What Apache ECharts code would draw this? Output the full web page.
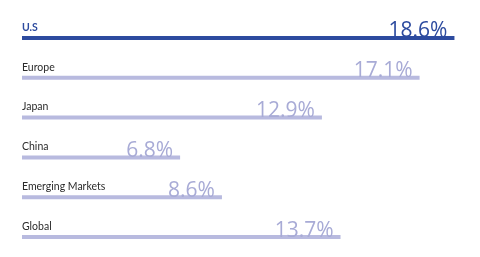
<!DOCTYPE html>
<html>
<head>
<meta charset="utf-8">
<script src="https://cdn.jsdelivr.net/npm/echarts@6/dist/echarts.min.js"></script>
<style>html,body{margin:0;padding:0;background:#fff}#c{width:480px;height:257px}</style>
</head>
<body>
<div id="c"></div>
<script>
var categories = ['U.S', 'Europe', 'Japan', 'China', 'Emerging Markets', 'Global'];
var values = [18.6, 17.1, 12.9, 6.8, 8.6, 13.7];
var highlight = 'U.S';

var dark = '#2d4b9f';
var light = '#b8badf';
var lightText = '#a8abd6';

var chart = echarts.init(document.getElementById('c'));
chart.setOption({
  animation: false,
  grid: { left: 22, right: 16.25, top: 18, height: 242, containLabel: false },
  xAxis: { type: 'value', min: 0, max: 19, show: false },
  yAxis: {
    type: 'category', data: categories, inverse: true,
    axisLine: { show: false }, axisTick: { show: false }, splitLine: { show: false },
    axisLabel: {
      inside: true, margin: 0, verticalAlign: 'bottom',
      padding: [0, 0, 5, 0],
      fontFamily: 'Lato, "Open Sans", sans-serif', fontSize: 10.5, color: '#2b2b2b',
      formatter: function (v) { return v === highlight ? '{h|' + v + '}' : v; },
      rich: { h: { color: dark, fontWeight: 'bold', fontSize: 10.5, fontFamily: 'Lato, sans-serif' } }
    }
  },
  series: [{
    type: 'bar', barWidth: 4,
    data: values.map(function (v, i) {
      var hi = categories[i] === highlight;
      return {
        value: v,
        itemStyle: { color: hi ? dark : light },
        label: { color: hi ? dark : lightText }
      };
    }),
    label: {
      show: true, position: ['100%', 0], align: 'right', verticalAlign: 'bottom',
      offset: [-7, 6],
      fontFamily: '"Open Sans", sans-serif', fontWeight: 400, fontSize: 21,
      formatter: function (p) { return p.value.toFixed(1) + '%'; }
    }
  }]
});
</script>
</body>
</html>
